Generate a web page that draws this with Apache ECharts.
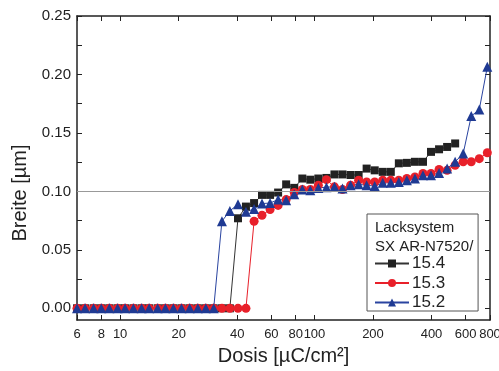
<!DOCTYPE html>
<html>
<head>
<meta charset="utf-8">
<script src="https://cdn.jsdelivr.net/npm/echarts@6/dist/echarts.min.js"></script>
<style>
  html, body { margin: 0; padding: 0; background: #fff; }
  #chart { width: 499px; height: 371px; }
</style>
</head>
<body>
<div id="chart"></div>
<script>
// Dosis [µC/cm²] – gemeinsames Raster aller Messreihen
const doses = [6.0, 6.6, 7.3, 8.0, 8.8, 9.7, 10.6, 11.7, 12.9, 14.1, 15.6, 17.1, 18.8,
  20.7, 22.8, 25.1, 27.6, 30.3, 33.4, 36.7, 40.4, 44.4, 48.9, 53.7, 59.1, 65.0,
  71.5, 78.7, 86.6, 95.2, 104.7, 115.2, 126.7, 139.4, 153.4, 168.7, 185.5, 204.1,
  224.5, 247.0, 271.7, 298.8, 328.7, 361.6, 397.8, 437.5, 481.3, 529.4, 582.4,
  640.6, 704.7, 775.1];

// Breite [µm]
const width154 = [0, 0, 0, 0, 0, 0, 0, 0, 0, 0, 0, 0, 0, 0, 0, 0, 0, 0, 0, 0,
  0.077, 0.087, 0.090, 0.097, 0.097, 0.099, 0.106, 0.103, 0.111, 0.110, 0.111,
  0.1115, 0.1145, 0.1145, 0.114, 0.114, 0.1195, 0.118, 0.1167, 0.1167, 0.124,
  0.1244, 0.1253, 0.1253, 0.1338, 0.136, 0.138, 0.141];
const width153 = [0, 0, 0, 0, 0, 0, 0, 0, 0, 0, 0, 0, 0, 0, 0, 0, 0, 0, 0, 0, 0, 0,
  0.0745, 0.0796, 0.0845, 0.088, 0.093, 0.099, 0.1016, 0.1016, 0.1053, 0.110,
  0.1039, 0.1016, 0.1053, 0.1096, 0.108, 0.108, 0.1096, 0.1096, 0.1096, 0.111,
  0.1124, 0.1153, 0.1153, 0.1187, 0.118, 0.1224, 0.1253, 0.1253, 0.128, 0.133];
const width152 = [0, 0, 0, 0, 0, 0, 0, 0, 0, 0, 0, 0, 0, 0, 0, 0, 0, 0,
  0.0745, 0.0833, 0.089, 0.0825, 0.085, 0.0896, 0.090, 0.093, 0.0925, 0.0975,
  0.1016, 0.101, 0.103, 0.1036, 0.104, 0.1025, 0.1053, 0.106, 0.1053, 0.1045,
  0.1073, 0.1073, 0.1081, 0.1096, 0.111, 0.1139, 0.1139, 0.1158, 0.1196, 0.1253,
  0.1324, 0.1644, 0.170, 0.2066];

const xTickLabels = [6, 8, 10, 20, 40, 60, 80, 100, 200, 400, 600, 800];
const yTickLabels = [0, 0.05, 0.10, 0.15, 0.20, 0.25];
const yTicks = [0, 0.025, 0.05, 0.075, 0.10, 0.125, 0.15, 0.175, 0.20, 0.225, 0.25];

const font = 'Liberation Sans, Arial, sans-serif';

const pairs = (ys) => ys.map((y, i) => [doses[i], y]);

const chart = echarts.init(document.getElementById('chart'));

const axisLineStyle = { color: '#222', width: 1.5 };

const option = {
  animation: false,
  backgroundColor: '#fff',
  grid: { left: 77, right: 9, top: 16, bottom: 51, outerBoundsMode: 'none' },
  title: {
    text: 'Lacksystem\nSX AR-N7520/',
    left: 375,
    top: 218,
    padding: 0,
    textStyle: { fontFamily: font, fontSize: 15, fontWeight: 'normal', color: '#222', lineHeight: 19 },
  },
  legend: {
    orient: 'vertical',
    left: 367,
    top: 214,
    padding: [41, 33, 0, 7],
    itemGap: 2.5,
    itemWidth: 34,
    itemHeight: 10,
    borderColor: '#555',
    borderWidth: 1,
    backgroundColor: '#fff',
    textStyle: { fontFamily: font, fontSize: 17, color: '#222', padding: [0, 0, 0, -2] },
    data: ['15.4', '15.3', '15.2'],
  },
  graphic: [{
    type: 'text',
    x: 20,
    y: 193,
    rotation: Math.PI / 2,
    style: {
      text: 'Breite [µm]',
      font: '20px ' + font,
      fill: '#222',
      align: 'center',
      verticalAlign: 'middle',
    },
  }],
  xAxis: [{
    type: 'log',
    min: 6,
    max: 800,
    name: 'Dosis [µC/cm²]',
    nameLocation: 'middle',
    nameGap: 26,
    nameTextStyle: { fontFamily: font, fontSize: 20, color: '#222' },
    axisLine: { onZero: false, lineStyle: axisLineStyle },
    axisTick: { inside: true, length: 5, customValues: xTickLabels, lineStyle: { color: '#222' } },
    axisLabel: { customValues: xTickLabels, fontFamily: font, fontSize: 13, color: '#222', margin: 8 },
    splitLine: { show: false },
    minorTick: { show: false },
  }, {
    type: 'log',
    position: 'top',
    min: 6,
    max: 800,
    axisLine: { onZero: false, lineStyle: axisLineStyle },
    axisTick: { inside: true, length: 5, customValues: xTickLabels, lineStyle: { color: '#222' } },
    axisLabel: { show: false },
    splitLine: { show: false },
  }],
  yAxis: [{
    type: 'value',
    min: -0.01,
    max: 0.25,
    axisLine: { show: true, onZero: false, lineStyle: axisLineStyle },
    axisTick: { show: true, inside: true, length: 5, customValues: yTicks, lineStyle: { color: '#222' } },
    axisLabel: {
      customValues: yTickLabels,
      formatter: (v) => v.toFixed(2),
      fontFamily: font, fontSize: 15, color: '#222', margin: 6,
    },
    splitLine: { show: false },
  }, {
    type: 'value',
    position: 'right',
    min: -0.01,
    max: 0.25,
    axisLine: { show: true, onZero: false, lineStyle: axisLineStyle },
    axisTick: { show: true, inside: true, length: 5, customValues: yTicks, lineStyle: { color: '#222' } },
    axisLabel: { show: false },
    splitLine: { show: false },
  }],
  series: [
    {
      name: '15.4',
      type: 'line',
      data: pairs(width154),
      symbol: 'rect',
      symbolSize: 8,
      color: '#222',
      lineStyle: { width: 1, color: '#333' },
      itemStyle: { color: '#222' },
      markLine: {
        silent: true,
        symbol: 'none',
        label: { show: false },
        lineStyle: { color: '#999', width: 1, type: 'solid' },
        data: [{ yAxis: 0.1 }],
      },
    },
    {
      name: '15.3',
      type: 'line',
      data: pairs(width153),
      symbol: 'circle',
      symbolSize: 9,
      color: '#e8202a',
      lineStyle: { width: 1, color: '#e8202a' },
      itemStyle: { color: '#e8202a' },
    },
    {
      name: '15.2',
      type: 'line',
      data: pairs(width152),
      symbol: 'triangle',
      symbolSize: 10,
      color: '#1f3a93',
      lineStyle: { width: 1, color: '#2a44a0' },
      itemStyle: { color: '#1f3a93' },
    },
  ],
};

chart.setOption(option);
</script>
</body>
</html>
